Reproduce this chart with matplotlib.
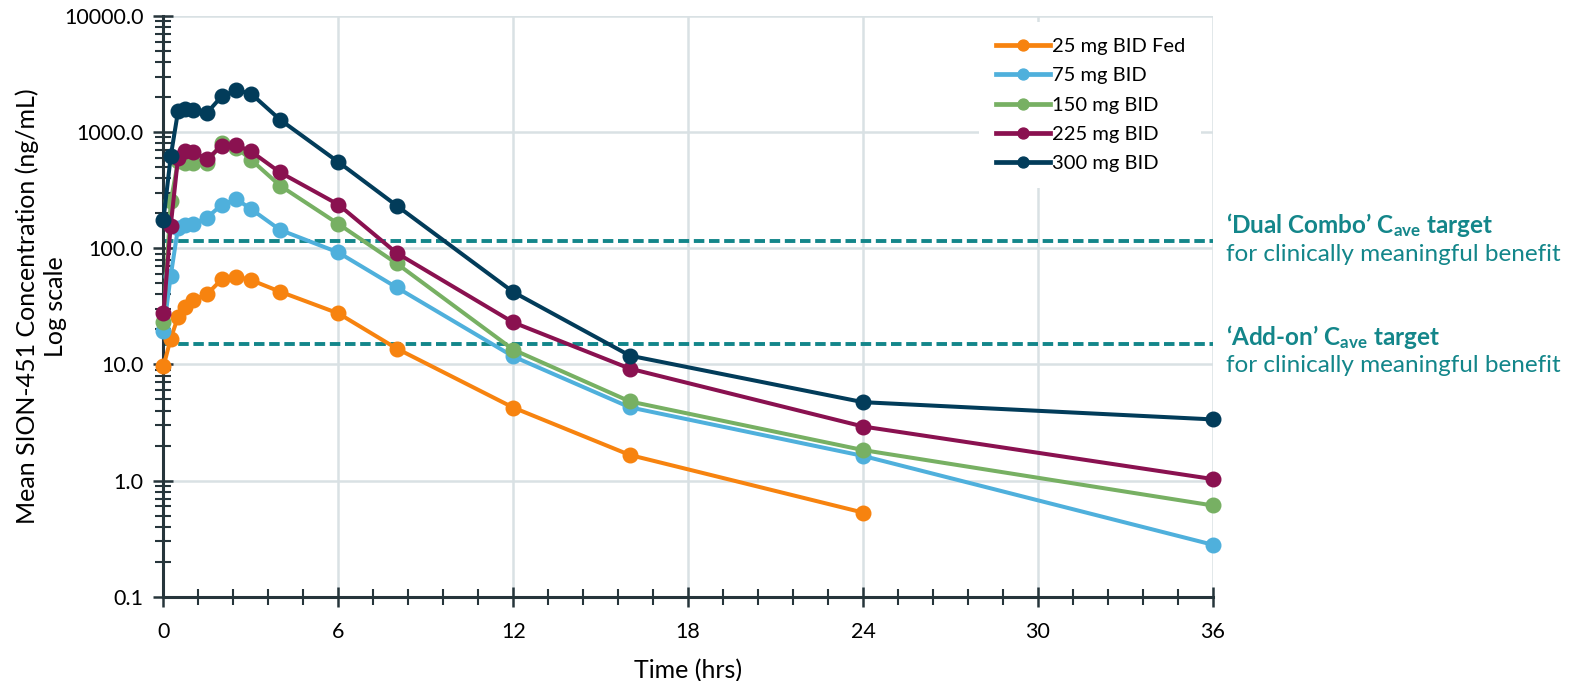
import matplotlib.pyplot as plt
from matplotlib.ticker import FixedLocator, MultipleLocator, NullFormatter
import numpy as np

plt.rcParams['font.family'] = ['Lato', 'DejaVu Sans']
plt.rcParams['mathtext.fontset'] = 'custom'
plt.rcParams['mathtext.rm'] = 'Lato'
plt.rcParams['mathtext.bf'] = 'Lato:bold'

# time points (hrs)
t = [0, 0.25, 0.5, 0.75, 1, 1.5, 2, 2.5, 3, 4, 6, 8, 12, 16, 24, 36]

# mean concentrations (ng/mL)
conc_25_fed = [9.6, 16.7, 25.7, 31.4, 35.8, 40.4, 54, 57, 53.3, 42.3, 27.5, 13.7, 4.25, 1.66, 0.53]
conc_75 = [19.4, 58, 150, 158, 162, 184, 237, 265, 218, 144, 92, 46, 11.7, 4.27, 1.63, 0.28]
conc_150 = [23, 253, 560, 545, 545, 547, 810, 736, 580, 346, 162, 74, 13.4, 4.8, 1.83, 0.61]
conc_225 = [27.5, 157, 600, 690, 670, 590, 757, 771, 684, 450, 238, 91, 23, 9.2, 2.92, 1.03]
conc_300 = [176, 620, 1510, 1590, 1560, 1470, 2040, 2290, 2150, 1280, 553, 233, 42, 11.9, 4.73, 3.36]

labels = ['25 mg BID Fed', '75 mg BID', '150 mg BID', '225 mg BID', '300 mg BID']
colors = ['#f7830f', '#4fb0dc', '#77b063', '#8a1150', '#023c5a']

dual_combo_target = 116
add_on_target = 14.9

teal = '#13868a'
axis_col = '#26353b'

fig = plt.figure(figsize=(15.9, 6.81), dpi=100)
ax = fig.add_axes([0.1028, 0.1238, 0.660, 0.8527])

series = [conc_25_fed, conc_75, conc_150, conc_225, conc_300]
for vals, lab, col in zip(series, labels, colors):
    ax.plot(t[:len(vals)], vals, color=col, lw=2.9, marker='o', ms=10.5,
            label=lab, zorder=3, clip_on=False)

# target lines
ax.axhline(dual_combo_target, color=teal, lw=2.8, ls=(0, (2.7, 1.2)), zorder=2)
ax.axhline(add_on_target, color=teal, lw=2.8, ls=(0, (2.7, 1.2)), zorder=2)

ax.set_yscale('log')
ax.set_xlim(0, 36)
ax.set_ylim(0.1, 10000)

ax.xaxis.set_major_locator(MultipleLocator(6))
ax.xaxis.set_minor_locator(MultipleLocator(1.2))
ax.yaxis.set_major_locator(FixedLocator([0.1, 1, 10, 100, 1000, 10000]))
minor_y = [m * 10.0 ** e for e in range(-1, 4) for m in range(2, 10)]
ax.yaxis.set_minor_locator(FixedLocator(minor_y))
ax.yaxis.set_minor_formatter(NullFormatter())
ax.set_yticklabels(['0.1', '1.0', '10.0', '100.0', '1000.0', '10000.0'])

ax.tick_params(axis='both', which='major', direction='inout', length=15, width=1.8,
               color=axis_col, labelsize=15.5, labelcolor='black')
ax.tick_params(axis='both', which='minor', direction='inout', length=11, width=1.5,
               color=axis_col)
ax.tick_params(axis='x', which='major', pad=11)
ax.tick_params(axis='y', which='major', pad=7)

ax.grid(True, which='major', color='#d9e1e4', lw=1.8, zorder=0)
ax.set_axisbelow(True)
for side in ['top', 'right']:
    ax.spines[side].set_visible(False)
for side in ['left', 'bottom']:
    ax.spines[side].set_color(axis_col)
    ax.spines[side].set_linewidth(2.2)

ax.set_xlabel('Time (hrs)', fontsize=18, labelpad=12)
ax.set_ylabel('Mean SION-451 Concentration (ng/mL)\nLog scale', fontsize=18,
              labelpad=-2, linespacing=1.25)

leg = ax.legend(loc='upper left', bbox_to_anchor=(0.768, 1.007), fontsize=14.5,
                handlelength=2.7, handletextpad=0.1, labelspacing=0.6,
                frameon=True, fancybox=False, edgecolor='none', facecolor='white',
                framealpha=1, borderpad=0.8, markerscale=0.75)
leg.set_zorder(5)
for line in leg.get_lines():
    line.set_linewidth(3.4)

# target annotations
tr = ax.get_yaxis_transform()
ax.text(1.0127, 159, '\u2018Dual Combo\u2019 $\\mathbf{C_{ave}}$ target',
        transform=tr, color=teal, fontsize=17.5, fontweight='bold',
        va='center', ha='left')
ax.text(1.0127, 89, 'for clinically meaningful benefit',
        transform=tr, color=teal, fontsize=17.5, va='center', ha='left')
ax.text(1.0127, 17.2, '\u2018Add-on\u2019 $\\mathbf{C_{ave}}$ target',
        transform=tr, color=teal, fontsize=17.5, fontweight='bold',
        va='center', ha='left')
ax.text(1.0127, 9.8, 'for clinically meaningful benefit',
        transform=tr, color=teal, fontsize=17.5, va='center', ha='left')

fig.savefig('out.png', dpi=100)
